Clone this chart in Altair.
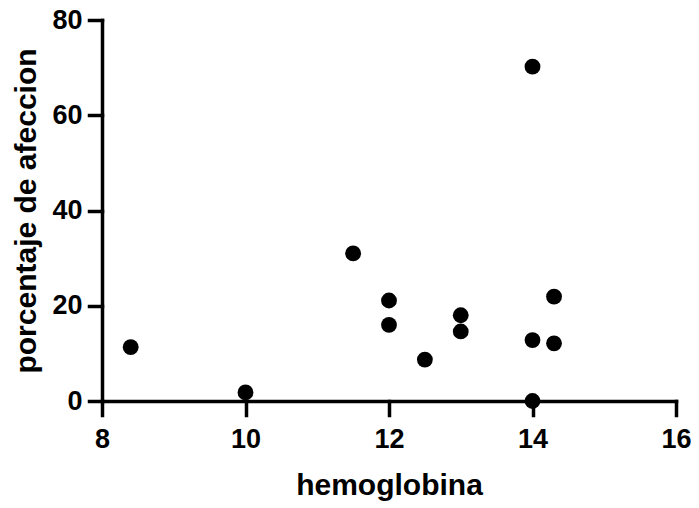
import altair as alt
import pandas as pd

hemoglobina = [8.4, 10, 11.5, 12, 12, 12.5, 13, 13, 14, 14, 14, 14.3, 14.3]
afeccion = [11.3, 1.8, 31.0, 21.1, 16.0, 8.7, 18.0, 14.6, 70.2, 12.8, 0.0, 21.9, 12.1]
x_ticks = [8, 10, 12, 14, 16]
y_ticks = [0, 20, 40, 60, 80]

df = pd.DataFrame({"hemoglobina": hemoglobina, "afeccion": afeccion})

FONT = "Liberation Sans"

axis_common = dict(
    grid=False,
    domainColor="black",
    domainWidth=3.5,
    domainCap="square",
    tickColor="black",
    tickWidth=3.5,
    tickCap="square",
    labelFont=FONT,
    labelFontSize=27,
    labelFontWeight="bold",
    labelColor="black",
    labelFlush=False,
    labelOverlap=False,
    titleFont=FONT,
    titleFontSize=30,
    titleFontWeight="bold",
    titleColor="black",
    titleBaseline="alphabetic",
)

chart = alt.Chart(df).mark_circle(size=250, color="black", opacity=1).encode(
    x=alt.X(
        "hemoglobina:Q",
        scale=alt.Scale(domain=[8, 16], nice=False, zero=False),
        axis=alt.Axis(values=x_ticks, title="hemoglobina", tickSize=14, labelPadding=11,
                      titleY=93, **axis_common),
    ),
    y=alt.Y(
        "afeccion:Q",
        scale=alt.Scale(domain=[0, 80], nice=False),
        axis=alt.Axis(values=y_ticks, title="porcentaje de afeccion", tickSize=13, labelPadding=7,
                      titleX=-67, **axis_common),
    ),
).properties(
    width=574,
    height=381,
    autosize=alt.AutoSizeParams(type="none"),
    padding={"left": 94, "top": 12, "right": 15, "bottom": 106},
).configure_view(stroke=None)

chart.save("out.html", embed_options={"renderer": "svg", "actions": False})
